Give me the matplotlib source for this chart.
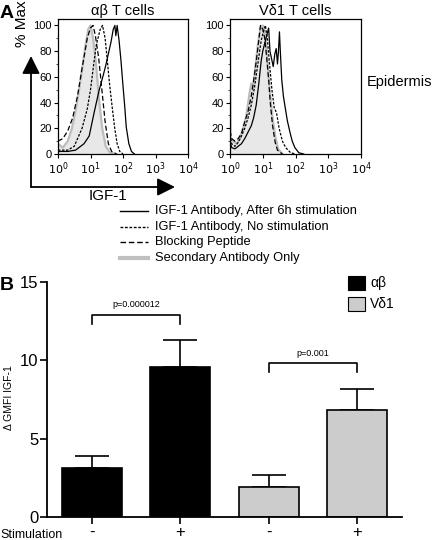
import numpy as np
import matplotlib.pyplot as plt
from matplotlib.patches import Rectangle, FancyArrowPatch
from matplotlib.lines import Line2D

plt.rcParams['font.family'] = ['Liberation Sans', 'DejaVu Sans']

# =====================================
# Data: histogram traces (log10 IGF-1, % Max)
# =====================================
# alpha-beta T cells
ab_gray_x = [0.0, 0.15, 0.3, 0.43, 0.55, 0.65, 0.74, 0.85, 0.93, 1.0, 1.08, 1.17, 1.26, 1.36, 1.47, 1.6, 1.8]
ab_gray_y = [8, 5, 10, 20, 35, 50, 66, 85, 97, 100, 90, 70, 43, 20, 6, 1, 0]
ab_dash_x = [0.0, 0.15, 0.3, 0.45, 0.6, 0.75, 0.9, 1.0, 1.08, 1.15, 1.25, 1.35, 1.45, 1.55, 1.65, 1.8]
ab_dash_y = [10, 12, 18, 28, 45, 68, 90, 98, 100, 92, 75, 50, 25, 8, 2, 0]
ab_dot_x = [0.0, 0.3, 0.5, 0.74, 0.9, 1.0, 1.1, 1.18, 1.25, 1.3, 1.37, 1.45, 1.52, 1.58, 1.66, 1.74, 1.82, 1.9, 2.0]
ab_dot_y = [3, 3, 6, 20, 35, 50, 70, 85, 92, 97, 100, 90, 72, 56, 38, 21, 8, 2, 0]
ab_solid_x = [0.0, 0.3, 0.54, 0.8, 0.96, 1.11, 1.26, 1.4, 1.47, 1.55, 1.63, 1.7, 1.75, 1.78, 1.82, 1.88,
              1.94, 1.99, 2.05, 2.1, 2.18, 2.26, 2.35]
ab_solid_y = [2, 2, 3, 8, 14, 32, 49, 62, 69, 78, 87, 97, 100, 92, 100, 88, 72, 56, 38, 21, 8, 2, 0]

# V-delta-1 T cells
vd_gray_x = [0.0, 0.02, 0.1, 0.2, 0.3, 0.4, 0.5, 0.6, 0.65, 0.7, 0.75, 0.85, 0.93, 1.0, 1.06, 1.12,
             1.18, 1.23, 1.3, 1.38, 1.47, 1.6]
vd_gray_y = [75, 12, 10, 8, 12, 20, 30, 48, 55, 50, 62, 85, 98, 100, 95, 80, 60, 45, 28, 14, 4, 0]
vd_dash_x = [0.0, 0.05, 0.15, 0.25, 0.35, 0.45, 0.55, 0.65, 0.75, 0.85, 0.93, 1.0, 1.06, 1.12, 1.18,
             1.23, 1.3, 1.38, 1.45, 1.6]
vd_dash_y = [18, 12, 10, 12, 16, 25, 33, 45, 62, 82, 100, 97, 90, 75, 58, 40, 22, 9, 3, 0]
vd_dot_x = [0.0, 0.05, 0.15, 0.25, 0.35, 0.45, 0.55, 0.65, 0.75, 0.85, 0.95, 1.02, 1.08, 1.14, 1.2,
            1.28, 1.35, 1.42, 1.5, 1.6, 1.7, 1.85, 2.0]
vd_dot_y = [15, 8, 6, 9, 14, 20, 28, 38, 52, 70, 88, 95, 100, 90, 72, 50, 36, 32, 20, 10, 5, 1, 0]
vd_solid_x = [0.0, 0.05, 0.15, 0.25, 0.35, 0.45, 0.55, 0.65, 0.72, 0.8, 0.88, 0.95, 1.0, 1.05, 1.12,
              1.18, 1.22, 1.27, 1.32, 1.37, 1.41, 1.45, 1.48, 1.51, 1.54, 1.58, 1.63, 1.68, 1.75,
              1.83, 1.9, 1.98, 2.1, 2.25]
vd_solid_y = [10, 5, 4, 6, 8, 12, 17, 22, 28, 38, 55, 72, 80, 85, 92, 98, 80, 74, 68, 78, 82, 70, 80,
              95, 78, 58, 45, 37, 26, 17, 10, 5, 1, 0]

# Bar chart (panel B)
bar_groups = ['αβ', 'αβ', 'Vδ1', 'Vδ1']
bar_stim = ['-', '+', '-', '+']
bar_means = [3.1, 9.6, 1.9, 6.8]
bar_errs = [0.8, 1.7, 0.8, 1.4]
p_labels = ['p=0.000012', 'p=0.001']
p_pairs = [(0, 1), (2, 3)]
p_heights = [12.9, 9.8]

W, H = 440, 540
fig = plt.figure(figsize=(4.4, 5.4), dpi=100)


def fx(x):
    return x / W


def fy(y):
    return 1 - y / H


def hist_panel(rect, title, traces):
    ax = fig.add_axes(rect)
    gx, gy = traces[0]
    gx = 10 ** np.array(gx)
    ax.fill_between(gx, gy, color='#e8e8e8', lw=0)
    ax.plot(gx, gy, color='#bdbdbd', lw=1.6)
    styles = [(0, (4, 2)), (0, (2, 1.2)), '-']
    for (x, y), ls in zip(traces[1:], styles):
        ax.plot(10 ** np.array(x), y, color='black', lw=0.9, ls=ls)
    ax.set_xscale('log')
    ax.set_xlim(1, 1e4)
    ax.set_ylim(0, 105)
    ax.set_xticks([1, 10, 100, 1000, 10000])
    ax.set_xticklabels([r'$10^{%d}$' % i for i in range(5)], fontsize=8)
    ax.set_yticks([0, 20, 40, 60, 80, 100])
    ax.set_yticklabels(['0', '20', '40', '60', '80', '100'], fontsize=8)
    ax.tick_params(which='major', length=3, width=0.8, pad=1.5)
    ax.tick_params(which='minor', length=1.5, width=0.5)
    ax.set_yticks(range(10, 100, 20), minor=True)
    for s in ax.spines.values():
        s.set_linewidth(0.9)
    ax.set_title(title, fontsize=10.5, pad=3)
    return ax


hist_panel([fx(58), fy(154), fx(130), (154 - 19) / H], 'αβ T cells',
           [(ab_gray_x, ab_gray_y), (ab_dash_x, ab_dash_y), (ab_dot_x, ab_dot_y), (ab_solid_x, ab_solid_y)])
hist_panel([fx(230), fy(154), fx(131), (154 - 19) / H], 'Vδ1 T cells',
           [(vd_gray_x, vd_gray_y), (vd_dash_x, vd_dash_y), (vd_dot_x, vd_dot_y), (vd_solid_x, vd_solid_y)])

fig.text(fx(367), fy(82), 'Epidermis', fontsize=10.5, va='center')
fig.text(fx(0), fy(13), 'A', fontsize=14, fontweight='bold', va='center')
fig.text(fx(22), fy(24), '% Max', fontsize=11, rotation=90, ha='center', va='center')

# axis arrows
for end in [(31, 56), (175, 187)]:
    fig.add_artist(FancyArrowPatch((fx(31), fy(187)), (fx(end[0]), fy(end[1])),
                                   transform=fig.transFigure, arrowstyle='-|>,head_length=0.9,head_width=0.45',
                                   mutation_scale=12, color='black', lw=1.3, shrinkA=0, shrinkB=0))
fig.text(fx(108), fy(196), 'IGF-1', fontsize=11, ha='center', va='center')

# legend panel A
leg_labels = ['IGF-1 Antibody, After 6h stimulation', 'IGF-1 Antibody, No stimulation',
              'Blocking Peptide', 'Secondary Antibody Only']
leg_styles = [('black', '-', 1.0), ('black', (0, (2, 1.2)), 1.0), ('black', (0, (4, 2)), 1.0), ('#c0c0c0', '-', 3)]
for i, (lab, (c, ls, lw)) in enumerate(zip(leg_labels, leg_styles)):
    yy = 211 + i * 15.5
    fig.add_artist(Line2D([fx(120), fx(148)], [fy(yy), fy(yy)], color=c, ls=ls, lw=lw,
                          transform=fig.transFigure))
    fig.text(fx(155), fy(yy), lab, fontsize=9.3, va='center')

# =====================================
# Panel B bars
# =====================================
axb = fig.add_axes([fx(47), fy(517), fx(355), 235 / H])
xs = np.arange(len(bar_means))
colors = ['black' if g == 'αβ' else '#cccccc' for g in bar_groups]
axb.bar(xs, bar_means, width=0.68, color=colors, edgecolor='black', lw=1.2, zorder=2)
axb.errorbar(xs, bar_means, yerr=[np.zeros(4), bar_errs], fmt='none', ecolor='black',
             elinewidth=1.2, capsize=12, capthick=1.2, zorder=1)
axb.set_xlim(-0.51, 3.51)
axb.set_ylim(0, 15)
axb.set_yticks([0, 5, 10, 15])
axb.set_yticklabels(['0', '5', '10', '15'], fontsize=12)
axb.set_xticks(xs)
axb.set_xticklabels(bar_stim, fontsize=12)
axb.tick_params(length=5, width=1.2, pad=1)
for s in ['top', 'right']:
    axb.spines[s].set_visible(False)
for s in ['left', 'bottom']:
    axb.spines[s].set_linewidth(1.3)
fig.text(fx(9), fy(398), 'Δ GMFI IGF-1', fontsize=7.5, rotation=90, ha='center', va='center')

for (a, b), h, lab in zip(p_pairs, p_heights, p_labels):
    axb.plot([a, a, b, b], [h - 0.55, h, h, h - 0.55], color='black', lw=1.2, clip_on=False)
    axb.text((a + b) / 2, h + 0.35, lab, fontsize=6.5, ha='center', va='bottom')

fig.text(fx(0), fy(535), 'Stimulation', fontsize=9, va='center')
fig.text(fx(0), fy(285), 'B', fontsize=14, fontweight='bold', va='center')

# legend panel B
for i, (lab, c) in enumerate([('αβ', 'black'), ('Vδ1', '#cccccc')]):
    yy = 276 + i * 21
    fig.add_artist(Rectangle((fx(348), fy(yy + 14)), fx(17), 14 / H, facecolor=c, edgecolor='black',
                             lw=0.8, transform=fig.transFigure))
    fig.text(fx(370), fy(yy + 7), lab, fontsize=10, va='center')

fig.savefig('out.png', dpi=100)
